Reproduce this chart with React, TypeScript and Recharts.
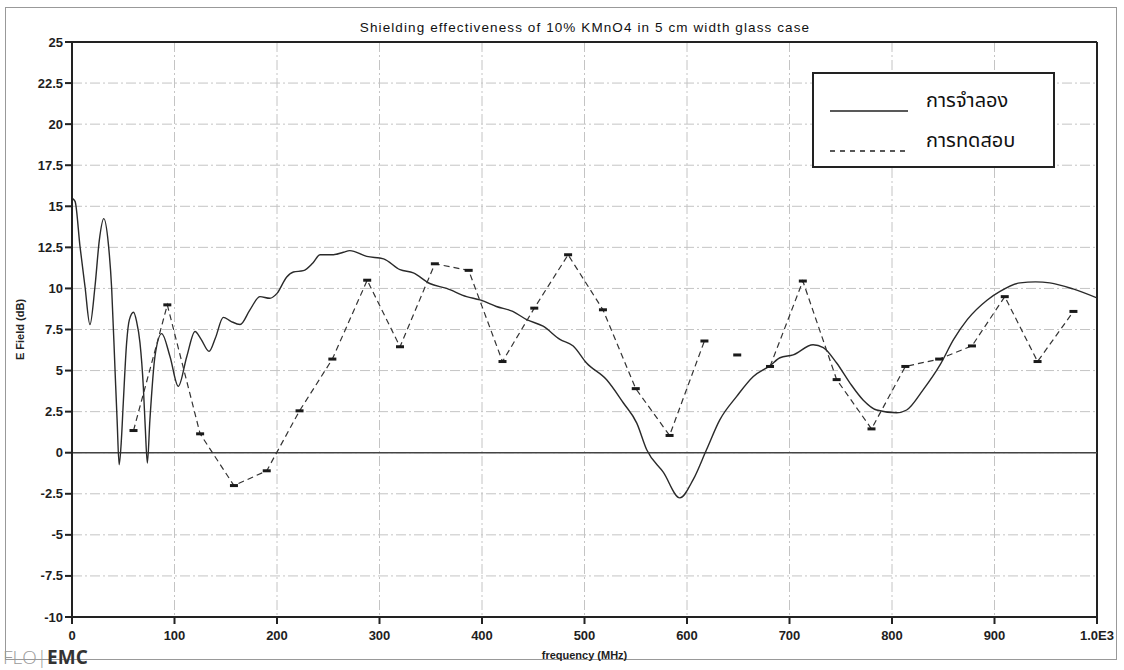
import { LineChart, Line, XAxis, YAxis, CartesianGrid, ReferenceLine, Legend } from 'recharts';

// simulation curve (solid)
const simFreq = [
  0, 3, 7.8, 12.7, 17.5, 22.4, 26.7, 31, 35.4, 38.7, 42, 44, 46, 48, 50, 53.3, 56, 60, 63, 66.3, 69.6,
  71.5, 73.5, 76, 81, 87.5, 95.6, 103.7, 112, 120, 126, 133.7, 140, 147.6, 155, 164, 173.6, 183.4, 193,
  200, 209.5, 216, 225.7, 235, 242, 255, 264.7, 271, 287.5, 304, 320, 333, 349, 365.5, 385, 398, 414,
  430, 443.6, 459.6, 476, 489, 502, 521.6, 537.8, 551, 560.7, 577, 593, 606, 619, 632, 648.5, 664.7,
  681, 690.7, 703.6, 723, 733, 746, 759, 772, 785, 804.5, 814.3, 830.5, 847, 860, 873.4, 893, 905.4,
  925, 940, 954, 976.6, 1000,
];
const simVal = [
  15.5, 15.3, 12.56, 10.1, 7.8, 10.1, 12.96, 14.25, 12.76, 10, 5, 2, -0.73, 0.6, 3, 6.7, 8.1, 8.55, 8.0, 6.7,
  4.0, 1.5, -0.63, 2.0, 5.9, 7.25, 5.86, 4.04, 5.86, 7.38, 6.9, 6.17, 7.0, 8.24, 8.0, 7.8, 8.7, 9.5, 9.4,
  9.7, 10.7, 11.0, 11.08, 11.55, 12.05, 12.05, 12.2, 12.3, 11.95, 11.8, 11.14, 10.95, 10.3, 10.0, 9.5,
  9.3, 8.9, 8.6, 8.1, 7.7, 6.9, 6.5, 5.46, 4.44, 3.04, 1.8, 0.18, -1.2, -2.75, -1.64, 0.18, 2.0, 3.43,
  4.64, 5.3, 5.78, 5.96, 6.57, 6.4, 5.46, 4.24, 3.2, 2.6, 2.43, 2.6, 3.84, 5.36, 6.88, 8.1, 9.3, 9.82,
  10.34, 10.4, 10.34, 9.97, 9.42,
];

// measurement points (dashed); nulls are where the scan shows no connecting segment
const measFreq = [
  60, 93, 125, 158, 190, 222, 254, 288, 320, 354, 387, 420, 451, 484, 518, 550, 583, 617, 633, 649, 665,
  681, 713, 746, 780, 813, 846, 878, 910, 942, 977,
];
const measVal = [
  1.35, 9.0, 1.15, -2.0, -1.1, 2.55, 5.7, 10.5, 6.45, 11.5, 11.1, 5.55, 8.8, 12.05, 8.7, 3.9, 1.05, 6.8,
  null, 5.95, null, 5.25, 10.45, 4.45, 1.45, 5.25, 5.7, 6.5, 9.5, 5.55, 8.6,
];

const xTicks = [0, 100, 200, 300, 400, 500, 600, 700, 800, 900, 1000];
const yTicks = [-10, -7.5, -5, -2.5, 0, 2.5, 5, 7.5, 10, 12.5, 15, 17.5, 20, 22.5, 25];

const simData = simFreq.map((f, i) => ({ f, sim: simVal[i] }));
const measData = measFreq.map((f, i) => ({ f, meas: measVal[i] }));

const sans = '"Liberation Sans", Arial, sans-serif';
const thaiFont = '"Noto Sans Thai", Tahoma, "DejaVu Sans", sans-serif';

function XTick(props: any) {
  const { x, y, payload } = props;
  const v = payload.value;
  return (
    <text x={x} y={y + 14} textAnchor="middle" fontFamily={sans} fontSize={13} fontWeight={700} fill="#1e1e1e">
      {v === 1000 ? '1.0E3' : String(v)}
    </text>
  );
}

function YTick(props: any) {
  const { x, y, payload } = props;
  return (
    <text x={x} y={y + 4.5} textAnchor="end" fontFamily={sans} fontSize={13} fontWeight={700} fill="#1e1e1e">
      {String(payload.value)}
    </text>
  );
}

function MeasDot(props: any) {
  const { cx, cy, payload, index } = props;
  if (payload == null || payload.meas == null || cy == null) return <g key={'d' + index} />;
  return <rect key={'d' + index} x={cx - 4} y={cy - 1.5} width={8} height={3} fill="#1a1a1a" />;
}

function LegendBox() {
  return (
    <div style={{
      width: 243, height: 96, boxSizing: 'border-box', border: '2px solid #222',
      background: '#fff', position: 'relative'
    }}>
      <svg width={90} height={92} style={{ position: 'absolute', left: 14, top: 0 }}>
        <line x1={2} x2={80} y1={37} y2={37} stroke="#222" strokeWidth={1.3} />
        <line x1={2} x2={80} y1={77} y2={77} stroke="#222" strokeWidth={1.3} strokeDasharray="5 5" />
      </svg>
      <div style={{ position: 'absolute', left: 112, top: 12, fontFamily: thaiFont, fontSize: 20, color: '#111' }}>
        การจำลอง
      </div>
      <div style={{ position: 'absolute', left: 112, top: 52, fontFamily: thaiFont, fontSize: 20, color: '#111' }}>
        การทดสอบ
      </div>
    </div>
  );
}

export default function App() {
  return (
    <div style={{ position: 'absolute', left: 0, top: 0, width: 1124, height: 670, background: '#fff' }}>
      {/* outer frame of the scanned figure */}
      <div style={{
        position: 'absolute', left: 5, top: 7, width: 1112, height: 653,
        border: '1px solid #999', boxSizing: 'border-box'
      }} />
      <div style={{
        position: 'absolute', left: 0, width: 1170, top: 20, textAlign: 'center',
        fontFamily: sans, fontSize: 13.5, letterSpacing: 1.1, color: '#111'
      }}>
        Shielding effectiveness of 10% KMnO4 in 5 cm width glass case
      </div>
      <LineChart width={1124} height={670} margin={{ top: 42, right: 27, bottom: 23, left: 12 }}>
        <CartesianGrid stroke="#c4c4c4" strokeDasharray="10 3 2 3" />
        <XAxis
          type="number"
          dataKey="f"
          domain={[0, 1000]}
          ticks={xTicks}
          allowDataOverflow
          height={30}
          tickSize={7}
          tickMargin={2}
          stroke="#222"
          strokeWidth={2}
          tick={<XTick />}
          label={{
            value: 'frequency (MHz)', position: 'bottom', offset: 4, fill: '#222',
            style: { fontFamily: sans, fontSize: 11, fontWeight: 'bold', fill: '#222' }
          }}
        />
        <YAxis
          type="number"
          domain={[-10, 25]}
          ticks={yTicks}
          allowDataOverflow
          width={60}
          tickSize={7}
          tickMargin={2}
          stroke="#222"
          strokeWidth={2}
          tick={<YTick />}
          label={{
            value: 'E Field (dB)', angle: -90, position: 'insideLeft', offset: 8, fill: '#222',
            style: { fontFamily: sans, fontSize: 11, fontWeight: 'bold', fill: '#222', textAnchor: 'middle' }
          }}
        />
        <ReferenceLine y={25} stroke="#222" strokeWidth={2} />
        <ReferenceLine x={1000} stroke="#222" strokeWidth={2} />
        <ReferenceLine y={0} stroke="#444" strokeWidth={1.5} />
        <Legend
          layout="horizontal"
          verticalAlign="middle"
          align="center"
          content={() => <LegendBox />}
          wrapperStyle={{ left: 812, top: 72, width: 243, height: 96 }}
        />
        <Line
          data={simData}
          dataKey="sim"
          name="การจำลอง"
          type="monotone"
          stroke="#2a2a2a"
          strokeWidth={1.4}
          dot={false}
          isAnimationActive={false}
        />
        <Line
          data={measData}
          dataKey="meas"
          name="การทดสอบ"
          type="linear"
          stroke="#333"
          strokeWidth={1.2}
          strokeDasharray="6 4"
          dot={(p: any) => <MeasDot {...p} />}
          activeDot={false}
          connectNulls={false}
          isAnimationActive={false}
        />
      </LineChart>
      <div style={{ position: 'absolute', left: 3, top: 646, fontFamily: '"Open Sans", sans-serif', fontSize: 19, lineHeight: '22px' }}>
        <span style={{ color: '#9a9a9a', fontWeight: 300 }}>FLO</span>
        <span style={{ color: '#9a9a9a', fontWeight: 300 }}>|</span>
        <span style={{ color: '#333', fontWeight: 700 }}>EMC</span>
      </div>
    </div>
  );
}
